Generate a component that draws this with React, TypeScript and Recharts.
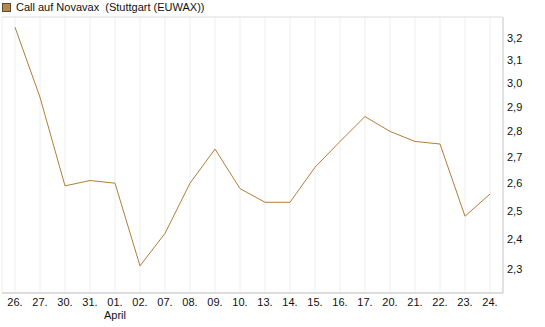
import { LineChart, Line, XAxis, YAxis, CartesianGrid } from "recharts";

// trading days (day of month), March -> April
const days = [
  "26.", "27.", "30.", "31.", "01.", "02.", "07.", "08.", "09.", "10.",
  "13.", "14.", "15.", "16.", "17.", "20.", "21.", "22.", "23.", "24.",
];
const prices = [
  3.25, 2.94, 2.59, 2.61, 2.6, 2.31, 2.42, 2.6, 2.73, 2.58,
  2.53, 2.53, 2.66, 2.76, 2.86, 2.8, 2.76, 2.75, 2.48, 2.56,
];
const priceTicks = [2.3, 2.4, 2.5, 2.6, 2.7, 2.8, 2.9, 3.0, 3.1, 3.2];
const monthLabels: Record<string, string> = { "01.": "April" };

const data = days.map((d, i) => ({ day: d, price: prices[i] }));

const LINE = "#B07D3A";
const FONT = "'Liberation Sans', Arial, sans-serif";

function DayTick({ x, y, payload }: { x?: number; y?: number; payload?: { value: string } }) {
  const v = payload?.value ?? "";
  return (
    <g>
      <text x={x} y={(y ?? 0) + 5} textAnchor="middle" fontSize={11} fill="#111" fontFamily={FONT}>
        {v}
      </text>
      {monthLabels[v] && (
        <text x={x} y={(y ?? 0) + 18} textAnchor="middle" fontSize={11} fill="#111" fontFamily={FONT}>
          {monthLabels[v]}
        </text>
      )}
    </g>
  );
}

export default function App() {
  return (
    <div style={{ position: "absolute", left: 0, top: 0, width: 545, height: 327, background: "#fff" }}>
      <div
        style={{
          position: "absolute",
          left: 2,
          top: 1,
          fontFamily: FONT,
          fontSize: 11,
          color: "#111",
          whiteSpace: "pre",
          display: "flex",
          alignItems: "center",
        }}
      >
        <span
          style={{
            display: "inline-block",
            width: 7,
            height: 7,
            background: "#B8874A",
            border: "1px solid #5a4a3a",
            marginRight: 5,
          }}
        />
        Call auf Novavax  (Stuttgart (EUWAX))
      </div>
      <LineChart width={545} height={327} data={data} margin={{ top: 17, right: 0, left: 2, bottom: 0 }}>
        <CartesianGrid horizontal={false} stroke="#eeeeee" />
        <CartesianGrid vertical={false} stroke="#dcdcdc" />
        <XAxis
          dataKey="day"
          padding={{ left: 13, right: 13 }}
          interval={0}
          height={34}
          tickLine={false}
          axisLine={{ stroke: "#cccccc" }}
          tick={<DayTick />}
        />
        <YAxis
          yAxisId="left"
          orientation="left"
          width={0}
          tick={false}
          tickLine={false}
          axisLine={{ stroke: "#cccccc" }}
        />
        <YAxis
          yAxisId="price"
          orientation="right"
          scale="log"
          domain={[2.222, 3.298]}
          allowDataOverflow
          ticks={priceTicks}
          interval={0}
          width={42}
          tickLine={false}
          tickSize={2}
          tickMargin={2}
          axisLine={{ stroke: "#cccccc" }}
          tick={{ fontSize: 11, fill: "#111", fontFamily: FONT, textAnchor: "start" }}
          tickFormatter={(v: number) => v.toFixed(1).replace(".", ",")}
        />
        <Line
          yAxisId="price"
          type="linear"
          dataKey="price"
          stroke={LINE}
          strokeWidth={1}
          dot={false}
          isAnimationActive={false}
        />
      </LineChart>
    </div>
  );
}
